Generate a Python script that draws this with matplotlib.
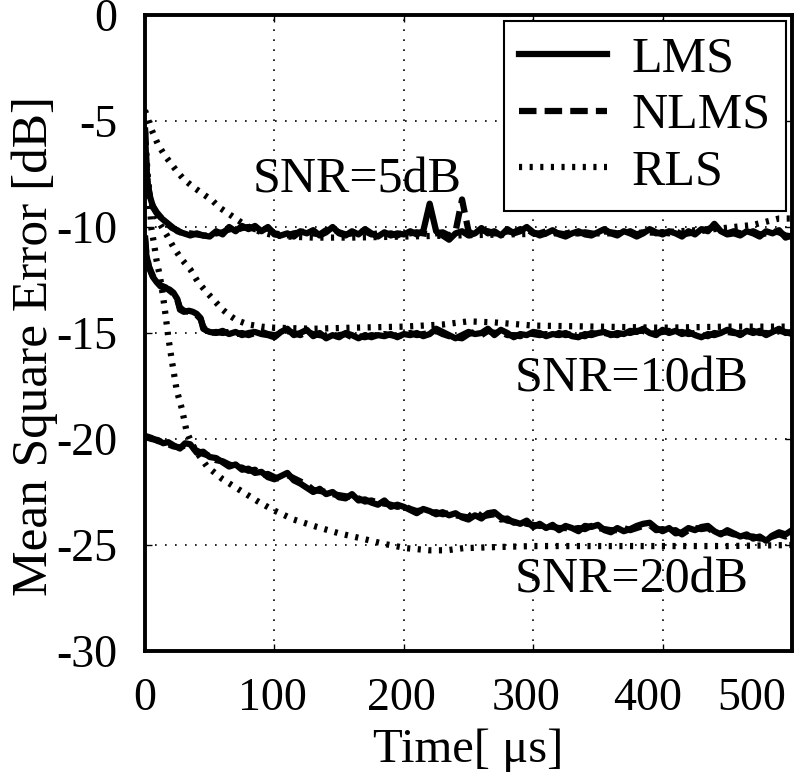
import matplotlib
matplotlib.use('Agg')
import matplotlib.pyplot as plt
from matplotlib.transforms import ScaledTranslation

plt.rcParams['font.family'] = ['Liberation Serif', 'DejaVu Serif']
plt.rcParams['axes.unicode_minus'] = False

# sample times of the steady part of the LMS / NLMS curves [us]
t_steady = [50, 55, 60, 65, 70, 75, 80, 85, 90, 95,
            100, 105, 110, 115, 120, 125, 130, 135, 140, 145,
            150, 155, 160, 165, 170, 175, 180, 185, 190, 195,
            200, 205, 210, 215, 220, 225, 230, 235, 240, 245,
            250, 255, 260, 265, 270, 275, 280, 285, 290, 295,
            300, 305, 310, 315, 320, 325, 330, 335, 340, 345,
            350, 355, 360, 365, 370, 375, 380, 385, 390, 395,
            400, 405, 410, 415, 420, 425, 430, 435, 440, 445,
            450, 455, 460, 465, 470, 475, 480, 485, 490, 495, 500]

# SNR = 5 dB
t5_early = [0, 1, 2, 4, 6, 9, 13, 17, 21, 25, 30, 35, 40, 45]
lms5_early = [-5.5, -7.0, -8.0, -8.6, -9.0, -9.3, -9.6, -9.8, -10.0, -10.2, -10.3, -10.4, -10.3, -10.4]
nlms5_early = [-5.3, -6.9, -7.9, -8.6, -9.05, -9.35, -9.6, -9.85, -10.05, -10.15, -10.35, -10.3, -10.35, -10.4]
lms5 = [-10.45, -10.2, -10.35, -10.0, -10.2, -9.95, -10.1, -9.95, -10.2, -10.0,
        -10.35, -10.4, -10.3, -10.45, -10.2, -10.3, -10.15, -10.4, -10.25, -10.0,
        -10.3, -10.4, -10.2, -10.35, -10.1, -10.3, -10.45, -10.25, -10.4, -10.3,
        -10.35, -10.2, -10.35, -10.2, -8.9, -10.2, -10.4, -10.6, -10.3, -10.2,
        -10.4, -10.3, -10.05, -10.3, -10.2, -10.4, -10.1, -10.3, -10.2, -10.0,
        -10.25, -10.4, -10.3, -10.15, -10.35, -10.45, -10.3, -10.2, -10.35, -10.4,
        -10.25, -10.1, -10.3, -10.4, -10.2, -10.3, -10.45, -10.3, -10.1, -10.25,
        -10.35, -10.2, -10.3, -10.45, -10.2, -10.35, -10.1, -10.2, -9.85, -10.2,
        -10.35, -10.3, -10.4, -10.2, -10.3, -10.45, -10.2, -10.3, -10.15, -10.5, -10.4]
nlms5 = [-10.4, -10.3, -10.25, -10.1, -10.15, -10.05, -10.0, -10.1, -10.15, -10.05,
         -10.3, -10.35, -10.4, -10.3, -10.25, -10.2, -10.3, -10.35, -10.15, -10.1,
         -10.25, -10.35, -10.3, -10.25, -10.2, -10.35, -10.3, -10.35, -10.3, -10.4,
         -10.25, -10.3, -10.25, -10.3, -10.35, -10.3, -10.25, -10.4, -10.2, -8.7,
         -10.2, -10.4, -10.15, -10.2, -10.3, -10.3, -10.2, -10.25, -10.1, -10.1,
         -10.3, -10.3, -10.2, -10.25, -10.3, -10.35, -10.2, -10.3, -10.25, -10.3,
         -10.35, -10.2, -10.25, -10.3, -10.3, -10.2, -10.35, -10.25, -10.2, -10.3,
         -10.25, -10.3, -10.2, -10.35, -10.3, -10.25, -10.2, -10.1, -10.0, -10.25,
         -10.3, -10.2, -10.3, -10.3, -10.2, -10.35, -10.3, -10.2, -10.25, -10.4, -10.45]
t_rls5 = [0, 5, 10, 15, 20, 25, 30, 37, 45, 52, 58, 64, 70, 76, 82, 90, 100, 110,
          130, 160, 200, 240, 280, 320, 360, 400, 440, 470, 490, 500]
rls5 = [-4.5, -5.4, -6.1, -6.6, -7.0, -7.4, -7.75, -8.1, -8.45, -8.75, -9.1, -9.35, -9.6,
        -9.85, -10.05, -10.25, -10.4, -10.45, -10.5, -10.5, -10.45, -10.4, -10.35, -10.3,
        -10.3, -10.25, -10.1, -9.9, -9.6, -9.6]

# SNR = 10 dB
t10_early = [0, 1, 3, 6, 9, 12, 16, 19, 22, 25, 27, 30, 34, 37, 40, 43, 45, 48]
lms10_early = [-10.6, -11.3, -11.9, -12.35, -12.6, -12.8, -12.9, -12.95, -13.1, -13.4,
               -13.9, -14.0, -13.95, -14.0, -14.1, -14.3, -14.8, -14.9]
nlms10_early = [-10.4, -11.2, -11.85, -12.3, -12.55, -12.75, -12.85, -13.0, -13.15, -13.45,
                -13.8, -13.95, -14.0, -14.05, -14.15, -14.35, -14.7, -14.95]
lms10 = [-14.95, -15.0, -14.9, -15.05, -14.95, -15.1, -15.0, -14.95, -15.05, -15.1,
         -15.2, -14.95, -14.8, -15.1, -15.0, -14.85, -15.15, -15.0, -15.25, -15.1,
         -15.2, -15.0, -15.1, -15.25, -15.1, -15.2, -15.1, -15.15, -15.05, -15.2,
         -15.05, -15.1, -15.0, -15.15, -15.05, -14.8, -14.95, -15.1, -15.25, -15.1,
         -14.95, -15.05, -15.0, -14.8, -15.1, -14.85, -15.0, -15.2, -15.05, -15.1,
         -14.95, -15.0, -15.15, -15.05, -15.1, -15.0, -15.15, -15.2, -15.05, -15.1,
         -15.0, -14.95, -15.1, -15.0, -15.05, -14.9, -14.95, -14.8, -15.0, -15.1,
         -14.85, -15.0, -14.9, -15.05, -14.95, -15.1, -15.2, -15.05, -15.1, -15.0,
         -14.85, -14.95, -15.1, -14.9, -15.0, -14.9, -15.1, -14.95, -14.8, -15.0, -14.95]
nlms10 = [-15.0, -14.95, -15.0, -14.95, -15.05, -15.0, -15.1, -15.0, -14.95, -15.05,
          -15.1, -15.05, -14.9, -15.0, -15.1, -14.95, -15.05, -15.1, -15.15, -15.2,
          -15.1, -15.05, -15.2, -15.15, -15.2, -15.1, -15.15, -15.05, -15.1, -15.15,
          -15.1, -15.0, -15.1, -15.05, -15.0, -14.9, -15.05, -15.15, -15.2, -15.25,
          -15.05, -14.95, -15.1, -14.9, -15.0, -14.95, -15.1, -15.1, -15.15, -15.0,
          -15.05, -15.1, -15.05, -15.15, -15.0, -15.1, -15.05, -15.1, -15.15, -15.0,
          -15.05, -15.0, -15.05, -15.1, -14.95, -15.0, -14.9, -14.9, -15.05, -15.0,
          -14.95, -14.9, -15.0, -14.95, -15.05, -15.0, -15.1, -15.15, -15.0, -15.05,
          -14.95, -15.0, -15.0, -15.05, -14.9, -15.0, -15.0, -15.05, -14.9, -14.95, -15.05]
t_rls10 = [0, 2, 4, 8, 12, 17, 22, 28, 35, 41, 48, 54, 60, 66, 71, 80, 90, 100, 130,
           160, 200, 230, 250, 270, 300, 350, 400, 450, 500]
rls10 = [-5.5, -7.5, -8.7, -9.4, -9.9, -10.4, -10.95, -11.5, -12.0, -12.6, -13.1, -13.5,
         -13.9, -14.2, -14.4, -14.6, -14.7, -14.75, -14.8, -14.75, -14.7, -14.6, -14.45,
         -14.5, -14.65, -14.7, -14.75, -14.7, -14.7]

# SNR = 20 dB
t20_early = [0, 5, 10, 14, 18, 22, 27, 31, 35, 40, 45]
lms20_early = [-19.9, -20.0, -20.05, -20.2, -20.15, -20.3, -20.45, -20.2, -20.25, -20.65, -20.6]
nlms20_early = [-19.85, -19.95, -20.1, -20.15, -20.25, -20.35, -20.4, -20.3, -20.35, -20.55, -20.7]
lms20 = [-20.85, -20.9, -21.1, -21.3, -21.2, -21.45, -21.4, -21.6, -21.55, -21.8,
         -21.9, -21.75, -21.6, -21.95, -22.1, -22.3, -22.5, -22.35, -22.6, -22.5,
         -22.75, -22.8, -22.6, -22.9, -22.85, -23.0, -23.1, -22.9, -23.2, -23.1,
         -23.2, -23.35, -23.5, -23.3, -23.4, -23.55, -23.45, -23.6, -23.5, -23.7,
         -23.8, -23.6, -23.75, -23.5, -23.45, -23.7, -23.85, -23.9, -24.0, -23.85,
         -24.15, -24.0, -24.2, -24.05, -24.3, -24.1, -24.2, -24.35, -24.1, -24.15,
         -24.05, -24.3, -24.4, -24.2, -24.35, -24.25, -24.1, -24.0, -23.95, -24.2,
         -24.35, -24.2, -24.45, -24.4, -24.2, -24.3, -24.15, -24.1, -24.35, -24.5,
         -24.3, -24.45, -24.6, -24.5, -24.7, -24.6, -24.8, -24.55, -24.4, -24.5, -24.3]
nlms20 = [-20.8, -21.0, -21.05, -21.2, -21.3, -21.35, -21.5, -21.45, -21.7, -21.65,
          -21.8, -21.9, -21.7, -21.85, -22.0, -22.15, -22.4, -22.45, -22.5, -22.6,
          -22.65, -22.7, -22.75, -22.8, -22.95, -22.9, -23.0, -23.05, -23.1, -23.2,
          -23.15, -23.3, -23.4, -23.35, -23.5, -23.45, -23.55, -23.5, -23.6, -23.65,
          -23.7, -23.4, -23.65, -23.6, -23.55, -23.8, -23.75, -23.95, -23.9, -24.0,
          -24.05, -24.1, -24.1, -24.15, -24.2, -24.2, -24.25, -24.2, -24.25, -24.1,
          -24.2, -24.25, -24.3, -24.3, -24.2, -24.3, -24.2, -24.1, -24.05, -24.3,
          -24.25, -24.35, -24.3, -24.5, -24.3, -24.2, -24.25, -24.2, -24.4, -24.45,
          -24.4, -24.5, -24.5, -24.6, -24.6, -24.7, -24.65, -24.6, -24.5, -24.6, -24.45]
t_rls20 = [0, 2, 4, 5, 7, 9, 11.6, 14, 16, 18, 21, 24.5, 28.6, 32, 36, 42, 48, 60, 73,
           86, 99, 115, 133, 150, 168, 185, 202, 220, 233, 246, 270, 300, 350, 400, 450, 500]
rls20 = [-6.0, -7.8, -9.2, -10.1, -10.8, -11.6, -12.35, -13.3, -14.2, -15.2, -16.4, -17.7,
         -18.6, -19.6, -20.2, -20.8, -21.3, -21.9, -22.4, -22.9, -23.35, -23.8, -24.15,
         -24.45, -24.7, -24.95, -25.15, -25.25, -25.25, -25.15, -25.1, -25.05, -25.05,
         -25.05, -25.05, -25.0]

snr_labels = ['SNR=5dB', 'SNR=10dB', 'SNR=20dB']
snr_label_pos = [(83, -7.8), (286, -17.2), (286, -26.65)]

xticks = [0, 100, 200, 300, 400, 500]
# the tick labels of the reference sit a bit left of their ticks towards the right
xtick_shift_px = [0, -2, -2, -7, -15, -40]

# styles
fs_tick = 33
fs_text = 36
fs_ylab = 37
fs_xlab = 35
lw = 4.5
dash_nlms = (0, (2.8, 1.3))
dot_rls = (0, (0.5, 1.2))

fig = plt.figure(figsize=(7.96, 7.74), dpi=100)
ax = fig.add_axes([145/796, 1-651/774, (792-145)/796, (651-15)/774])

groups = [(t5_early, lms5_early, nlms5_early, lms5, nlms5, t_rls5, rls5),
          (t10_early, lms10_early, nlms10_early, lms10, nlms10, t_rls10, rls10),
          (t20_early, lms20_early, nlms20_early, lms20, nlms20, t_rls20, rls20)]

for k, (te, le, ne, ls, ns, tr, rl) in enumerate(groups):
    lab = k == 0
    ax.plot(tr, rl, color='black', lw=lw, linestyle=dot_rls, dash_capstyle='butt',
            label='RLS' if lab else None, zorder=3)
    ax.plot(te + t_steady, ne + ns, color='black', lw=lw, linestyle=dash_nlms,
            dash_capstyle='butt', label='NLMS' if lab else None, zorder=4)
    ax.plot(te + t_steady, le + ls, color='black', lw=lw, solid_joinstyle='round',
            label='LMS' if lab else None, zorder=5)

for txt, (x, y) in zip(snr_labels, snr_label_pos):
    ax.text(x, y, txt, fontsize=fs_text, ha='left', va='center', zorder=6)

ax.set_xlim(0, 500)
ax.set_ylim(-30, 0)
ax.set_xticks(xticks)
ax.set_yticks([-30, -25, -20, -15, -10, -5, 0])
ax.grid(True, color='black', linestyle=(0, (1, 5)), linewidth=1.2)
ax.tick_params(direction='in', length=5, width=1, top=True, right=True, labelsize=fs_tick)
ax.tick_params(axis='x', pad=19)
ax.tick_params(axis='y', pad=20)
for sp in ax.spines.values():
    sp.set_linewidth(2.8)

for tick, dx in zip(ax.xaxis.get_major_ticks(), xtick_shift_px):
    lbl = tick.label1
    lbl.set_transform(lbl.get_transform() + ScaledTranslation(dx/100, 0, fig.dpi_scale_trans))

ax.set_xlabel('Time[ μs]', fontsize=fs_xlab, labelpad=6)
ax.set_ylabel('Mean Square Error [dB]', fontsize=fs_ylab)
ax.yaxis.set_label_coords(-0.135, 0.48)

handles, labels = ax.get_legend_handles_labels()
order = [labels.index('LMS'), labels.index('NLMS'), labels.index('RLS')]
leg = ax.legend([handles[i] for i in order], [labels[i] for i in order],
                loc='upper right', fontsize=fs_text, fancybox=False, framealpha=1,
                edgecolor='black', handlelength=1.75, labelspacing=0.2,
                borderaxespad=0.12, borderpad=0.3, handletextpad=0.5)
leg.get_frame().set_linewidth(1.5)
leg.set_zorder(10)

fig.savefig('out.png', dpi=100)
